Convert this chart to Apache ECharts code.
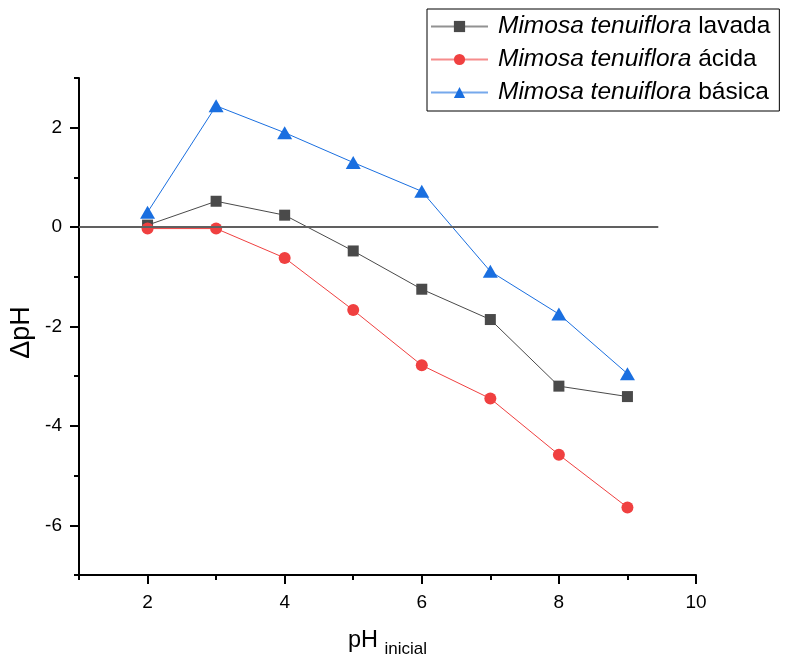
<!DOCTYPE html>
<html>
<head>
<meta charset="utf-8">
<script src="https://cdn.jsdelivr.net/npm/echarts@6/dist/echarts.min.js"></script>
<style>
  html, body { margin: 0; padding: 0; background: #fff; }
  #chart { width: 787px; height: 657px; }
</style>
</head>
<body>
<div id="chart"></div>
<script>
// Initial pH values (x) and the change in pH for each treated biomass
const phInicial = [2, 3, 4, 5, 6, 7, 8, 9];
const deltaLavada = [0.04, 0.52, 0.24, -0.48, -1.25, -1.86, -3.20, -3.41];
const deltaAcida  = [-0.03, -0.03, -0.62, -1.67, -2.78, -3.45, -4.58, -5.64];
const deltaBasica = [0.30, 2.44, 1.90, 1.30, 0.72, -0.89, -1.75, -2.95];

const seriesNames = ['lavada', 'ácida', 'básica'];
const xMajorTicks = [2, 4, 6, 8, 10];
const yMajorTicks = [-6, -4, -2, 0, 2];
const zeroLineEnd = 9.45;

const FONT = 'Liberation Sans, Arial, sans-serif';

function pairs(xs, ys) { return xs.map((x, i) => [x, ys[i]]); }

const chart = echarts.init(document.getElementById('chart'), null, { renderer: 'canvas' });

const tickStyle = { color: '#000', width: 2 };

const option = {
  animation: false,
  backgroundColor: '#fff',
  grid: { left: 79, right: 91, top: 78, bottom: 82, containLabel: false, outerBoundsMode: 'none' },
  legend: {
    left: 427, top: 9,
    orient: 'vertical',
    itemWidth: 57, itemHeight: 14, itemGap: 8,
    padding: [5, 9, 6, 3],
    borderColor: '#000', borderWidth: 1,
    lineStyle: { opacity: 0.6 },
    textStyle: {
      fontFamily: FONT, fontSize: 24.5, color: '#000',
      rich: { i: { fontFamily: FONT, fontSize: 24.5, fontStyle: 'italic', color: '#000', padding: [0, 0, 0, 5] } }
    },
    formatter: name => '{i|Mimosa tenuiflora} ' + name
  },
  xAxis: [
    {
      type: 'value', min: 1, max: 10, interval: 1, position: 'bottom',
      splitLine: { show: false },
      axisLine: { show: true, onZero: false, lineStyle: { color: '#000', width: 2 } },
      axisTick: { show: true, inside: false, length: 5, lineStyle: tickStyle },
      axisLabel: { show: false },
      name: '{a|pH} {b|inicial}',
      nameLocation: 'middle', nameGap: 48,
      nameTextStyle: {
        rich: {
          a: { fontFamily: FONT, fontSize: 23.5, color: '#000' },
          b: { fontFamily: FONT, fontSize: 17, color: '#000', padding: [18, 0, 0, 3] }
        }
      }
    },
    {
      type: 'value', min: 1, max: 10, position: 'bottom',
      splitLine: { show: false },
      axisLine: { show: false, onZero: false },
      axisTick: { show: true, inside: false, length: 9, customValues: xMajorTicks, lineStyle: tickStyle },
      axisLabel: { show: true, customValues: xMajorTicks, margin: 18, fontFamily: FONT, fontSize: 19, color: '#000' }
    }
  ],
  yAxis: [
    {
      type: 'value', min: -7, max: 3, interval: 1, position: 'left',
      splitLine: { show: false },
      axisLine: { show: true, onZero: false, lineStyle: { color: '#000', width: 2 } },
      axisTick: { show: true, inside: false, length: 5, lineStyle: tickStyle },
      axisLabel: { show: false },
      name: 'ΔpH', nameLocation: 'middle', nameGap: 44, nameRotate: 90,
      nameTextStyle: { fontFamily: FONT, fontSize: 27, color: '#000', padding: [0, 12, 0, 0] }
    },
    {
      type: 'value', min: -7, max: 3, position: 'left',
      splitLine: { show: false },
      axisLine: { show: false, onZero: false },
      axisTick: { show: true, inside: false, length: 9, customValues: yMajorTicks, lineStyle: tickStyle },
      axisLabel: { show: true, customValues: yMajorTicks, margin: 17, fontFamily: FONT, fontSize: 19, color: '#000' }
    }
  ],
  series: [
    {
      // horizontal reference line at ΔpH = 0
      type: 'line', data: [], z: 1, silent: true,
      markLine: {
        silent: true, symbol: 'none', label: { show: false },
        lineStyle: { color: '#606060', width: 2, type: 'solid' },
        data: [[{ coord: [1, 0] }, { coord: [zeroLineEnd, 0] }]]
      }
    },
    {
      name: seriesNames[0], type: 'line', z: 3,
      data: pairs(phInicial, deltaLavada),
      symbol: 'rect', symbolSize: 11,
      lineStyle: { color: '#4a4a4a', width: 1 },
      itemStyle: { color: '#4a4a4a' }
    },
    {
      name: seriesNames[1], type: 'line', z: 3,
      data: pairs(phInicial, deltaAcida),
      symbol: 'circle', symbolSize: 12,
      lineStyle: { color: '#f04040', width: 1 },
      itemStyle: { color: '#f04040' }
    },
    {
      name: seriesNames[2], type: 'line', z: 3,
      data: pairs(phInicial, deltaBasica),
      symbol: 'triangle', symbolSize: [15, 13],
      lineStyle: { color: '#1a6fe0', width: 1 },
      itemStyle: { color: '#1a6fe0' }
    }
  ]
};

chart.setOption(option);
</script>
</body>
</html>
